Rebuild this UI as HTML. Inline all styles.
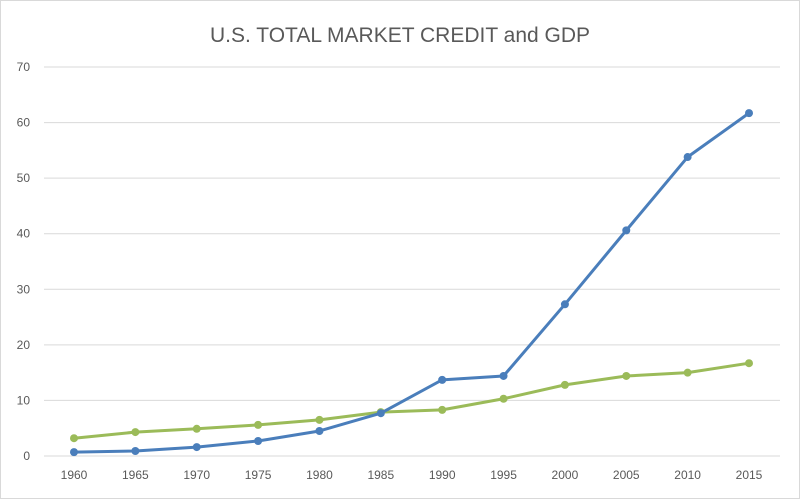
<!DOCTYPE html>
<html><head><meta charset="utf-8"><style>
html,body{margin:0;padding:0;background:#fff;}
svg{display:block;font-family:"Liberation Sans",Calibri,sans-serif;}
</style></head><body>
<svg id="chart" width="800" height="499" viewBox="0 0 800 499">
<rect x="0.5" y="0.5" width="799" height="498" fill="#fff" stroke="#d9d9d9"/>
<text x="400" y="42" text-anchor="middle" font-size="21" fill="#595959">U.S. TOTAL MARKET CREDIT and GDP</text>
<g id="grid"></g><g id="xlabels"></g><g id="series"></g>
</svg>
<script>
const years=[1960,1965,1970,1975,1980,1985,1990,1995,2000,2005,2010,2015];
const credit=[0.7,0.9,1.6,2.7,4.5,7.7,13.7,14.4,27.3,40.6,53.8,61.7];
const gdp=[3.2,4.3,4.9,5.6,6.5,7.9,8.3,10.3,12.8,14.4,15.0,16.7];
const yTicks=[0,10,20,30,40,50,60,70];
const NS="http://www.w3.org/2000/svg";
const y0=456,y70=67,xL=44,xR=780;
const xs=i=>74+i*(749-74)/(years.length-1);
const ys=v=>y0-(v/70)*(y0-y70);
function mk(t,a,p){const e=document.createElementNS(NS,t);for(const k in a)e.setAttribute(k,a[k]);p.appendChild(e);return e;}
const grid=document.getElementById('grid');
yTicks.forEach(v=>{
 const l=mk('line',{x1:xL,x2:xR,y1:ys(v),y2:ys(v),stroke:'#d9d9d9','stroke-width':1},grid);
 
 
 const t=mk('text',{x:30,y:ys(v)+4,'text-anchor':'end','font-size':12,fill:'#595959'},grid);
 t.textContent=v;
 
 
});
const xl=document.getElementById('xlabels');
years.forEach((yr,i)=>{
 const t=mk('text',{x:xs(i),y:479,'text-anchor':'middle','font-size':12,fill:'#595959'},xl);
 t.textContent=yr;
 
 
});
const sg=document.getElementById('series');
function draw(vals,color,name){
 const p=mk('polyline',{points:vals.map((v,i)=>xs(i)+','+ys(v)).join(' '),fill:'none',stroke:color,'stroke-width':3,'stroke-linejoin':'round'},sg);
 
 
 vals.forEach((v,i)=>{
  const c=mk('circle',{cx:xs(i),cy:ys(v),r:4,fill:color},sg);
  
  
 });
}
draw(gdp,'#9bbb59','gdp');
draw(credit,'#4a7ebb','credit');
</script>
</body></html>
